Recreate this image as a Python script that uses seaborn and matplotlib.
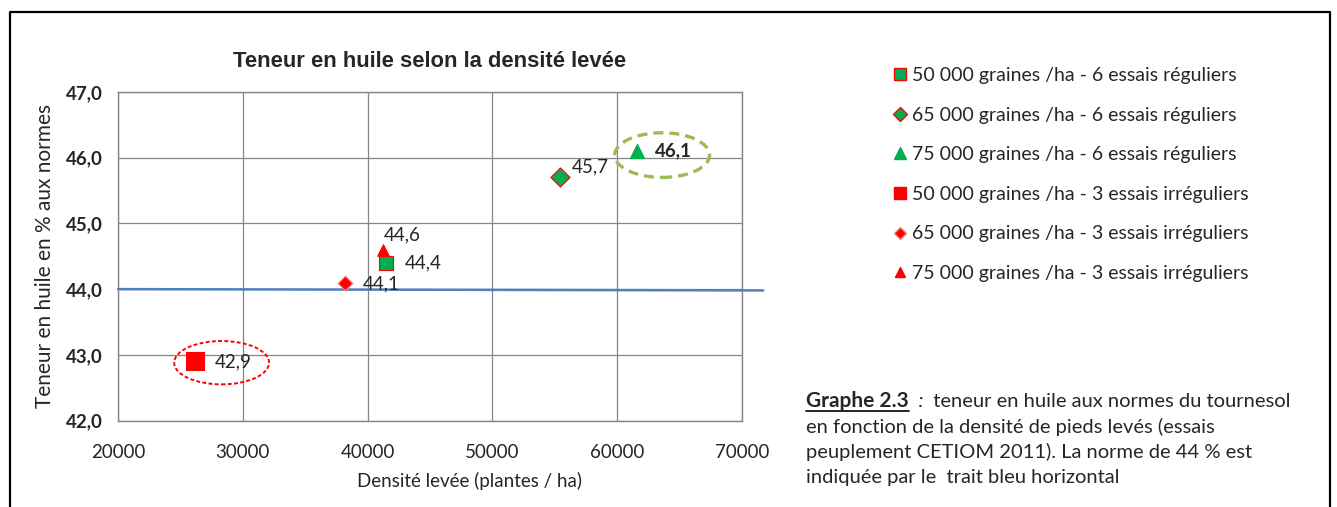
import matplotlib
matplotlib.use("Agg")
import matplotlib.pyplot as plt
from matplotlib.patches import Ellipse
from matplotlib.lines import Line2D
import seaborn as sns
import pandas as pd

# series data (densite levee, teneur en huile)
series_labels = [
    "50 000 graines /ha - 6 essais réguliers",
    "65 000 graines /ha - 6 essais réguliers",
    "75 000 graines /ha - 6 essais réguliers",
    "50 000 graines /ha - 3 essais irréguliers",
    "65 000 graines /ha - 3 essais irréguliers",
    "75 000 graines /ha - 3 essais irréguliers",
]
densite = [41500, 55400, 61600, 26200, 38200, 41200]
teneur = [44.4, 45.7, 46.1, 42.9, 44.1, 44.6]
value_labels = ["44,4", "45,7", "46,1", "42,9", "44,1", "44,6"]

# norme 44 % (trait bleu)
norm_x = [20000, 71700]
norm_y = [44.0, 43.98]

GREEN = "#00B050"
RED = "#FF0000"
markers = ["s", "D", "^", "s", "D", "^"]
colors = [GREEN, GREEN, GREEN, RED, RED, RED]
edges = [RED, RED, GREEN, RED, "#FF8080", RED]
msizes = [100, 95, 105, 150, 55, 70]
# label offsets in points
offsets = [(13, 0), (8.5, 7.5), (12.5, 0), (13.7, 0), (13, -1), (0.7, 10.8)]

df = pd.DataFrame({"densite": densite, "teneur": teneur, "serie": series_labels})

sns.set_style("white")
plt.rcParams["font.family"] = ["Lato", "DejaVu Sans"]

fig = plt.figure(figsize=(13.37, 5.07), dpi=100)
ax = fig.add_axes([0.0883, 0.1706, 0.4667, 0.6479])

for i in range(len(df)):
    sns.scatterplot(data=df.iloc[[i]], x="densite", y="teneur", marker=markers[i],
                    color=colors[i], edgecolor=edges[i], linewidth=0.8,
                    s=msizes[i], ax=ax, zorder=5, legend=False)
    ax.annotate(value_labels[i], (densite[i], teneur[i]), xytext=offsets[i],
                textcoords="offset points", fontsize=13.5, va="center", ha="left",
                fontweight="bold" if i == 2 else "normal", zorder=6)

ax.plot(norm_x, norm_y, color="#4F81BD", lw=1.8, clip_on=False, zorder=3)

# ellipses de mise en evidence
ax.add_patch(Ellipse((28300, 42.88), 7600, 0.66, fill=False, ls=(0, (2, 1.2)),
                     ec=RED, lw=1.4, zorder=4))
ax.add_patch(Ellipse((63600, 46.04), 7600, 0.68, fill=False, ls=(0, (3, 1.8)),
                     ec="#9BBB59", lw=2.4, zorder=4))

ax.set_xlim(20000, 70000)
ax.set_ylim(42, 47)
ax.set_xticks(range(20000, 70001, 10000))
ax.set_yticks([42, 43, 44, 45, 46, 47])
ax.set_yticklabels([f"{v},0" for v in [42, 43, 44, 45, 46, 47]], fontweight="bold")
ax.tick_params(axis="both", labelsize=13.5, length=5, color="#868686", width=1)
ax.tick_params(axis="x", pad=12)
ax.tick_params(axis="y", pad=6)
ax.grid(True, color="#868686", lw=0.9)
for sp in ax.spines.values():
    sp.set_color("#868686")
    sp.set_linewidth(1)
ax.set_xlabel("Densité levée (plantes / ha)", fontsize=13.5, va="center")
ax.xaxis.set_label_coords(0.564, -0.184)
ax.set_ylabel("Teneur en huile en % aux normes", fontsize=15, labelpad=8)
ax.set_title("Teneur en huile selon la densité levée", fontsize=15.8,
             fontweight="bold", family="Liberation Sans", pad=18)

# legende
handles = [Line2D([], [], ls="", marker=markers[i], color=colors[i],
                  markeredgecolor=edges[i], markersize=[8, 7, 8, 9, 6, 7][i])
           for i in range(6)]
fig.legend(handles, series_labels, loc="upper left", bbox_to_anchor=(0.653, 0.902),
           frameon=False, fontsize=14, labelspacing=1.16, handletextpad=0.1,
           handlelength=1.0, labelcolor="#262626")

# legende du graphe
cap_x = 0.603
cap_size = 14.5
t = fig.text(cap_x, 1 - 407 / 507, "Graphe 2.3", fontsize=cap_size + 0.5,
             fontweight="bold", va="baseline")
fig.canvas.draw()
renderer = fig.canvas.get_renderer()
bb = t.get_window_extent(renderer=renderer)
x_end = bb.x1 / fig.bbox.width
fig.add_artist(Line2D([cap_x, x_end], [1 - 411 / 507, 1 - 411 / 507], color="black", lw=1.2))
c = fig.text(x_end, 1 - 407 / 507, "  :", fontsize=cap_size, style="italic", va="baseline")
fig.canvas.draw()
x_end2 = c.get_window_extent(renderer=renderer).x1 / fig.bbox.width
fig.text(x_end2, 1 - 407 / 507, "  teneur en huile aux normes du tournesol",
         fontsize=cap_size, va="baseline")
fig.text(cap_x, 1 - 433 / 507, "en fonction de la densité de pieds levés (essais",
         fontsize=cap_size, va="baseline")
fig.text(cap_x, 1 - 458 / 507, "peuplement CETIOM 2011). La norme de 44 % est",
         fontsize=cap_size, va="baseline")
fig.text(cap_x, 1 - 483 / 507, "indiquée par le  trait bleu horizontal",
         fontsize=cap_size, va="baseline")

# cadre exterieur
fig.add_artist(Line2D([0.0075, 0.0075, 0.9945, 0.9945], [0.0, 0.977, 0.977, 0.0],
                      color="black", lw=1.6))

fig.savefig("out.png", dpi=100)
